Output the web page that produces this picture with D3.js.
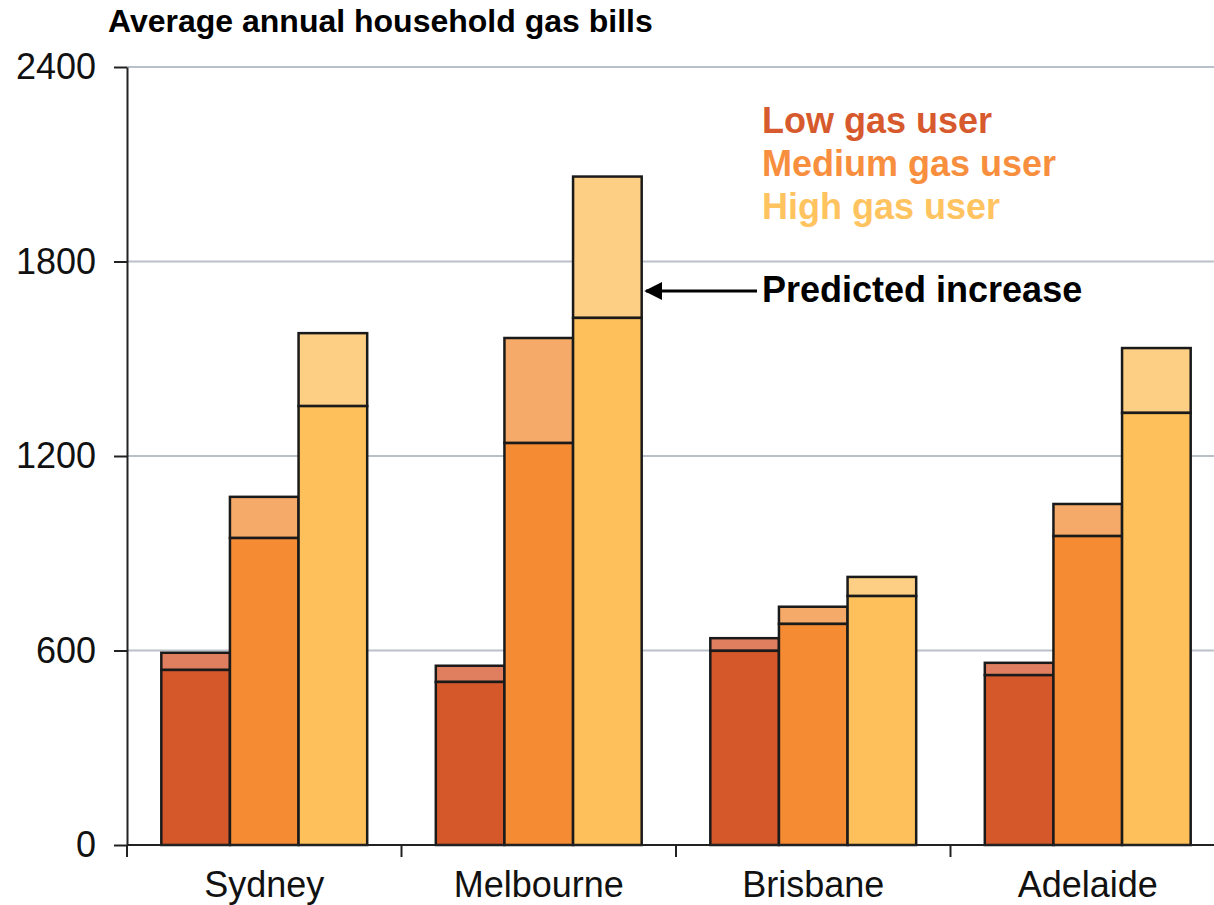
<!DOCTYPE html>
<html>
<head>
<meta charset="utf-8">
<script src="https://cdn.jsdelivr.net/npm/d3@7"></script>
<style>
  body { margin: 0; background: #fff; }
  svg { font-family: "Liberation Sans", Arial, sans-serif; }
</style>
</head>
<body>
<svg width="1214" height="905"></svg>
<script>
// values
const cities = ["Sydney", "Melbourne", "Brisbane", "Adelaide"];
const users = ["low", "medium", "high"];
const lowCurrent = [540, 503, 599, 524];
const lowPredicted = [593, 553, 638, 562];
const mediumCurrent = [947, 1240, 682, 953];
const mediumPredicted = [1074, 1564, 735, 1052];
const highCurrent = [1354, 1626, 768, 1333];
const highPredicted = [1579, 2062, 827, 1533];
const yTicks = [0, 600, 1200, 1800, 2400];
const legendLabels = ["Low gas user", "Medium gas user", "High gas user"];

const baseColor = { low: "#d4582a", medium: "#f58b33", high: "#fdc05a" };
const incColor = { low: "#e07f5f", medium: "#f6aa69", high: "#fdcf84" };
const textColor = { low: "#d75a2e", medium: "#f78f3e", high: "#ffc35f" };

const current = { low: lowCurrent, medium: mediumCurrent, high: highCurrent };
const predicted = { low: lowPredicted, medium: mediumPredicted, high: highPredicted };

const rows = [];
cities.forEach((c, i) => {
  users.forEach(u => {
    rows.push({ city: c, user: u, base: current[u][i], total: predicted[u][i] });
  });
});

const svg = d3.select("svg");

const x = d3.scaleBand().domain(cities).range([127, 1225]);
const x1 = d3.scaleBand().domain(users).range([0, x.bandwidth()]).paddingOuter(0.5);
const y = d3.scaleLinear().domain([0, 2400]).range([845, 67]);

// gridlines
svg.append("g")
  .selectAll("line")
  .data(yTicks.filter(d => d > 0))
  .join("line")
  .attr("x1", 127).attr("x2", 1214)
  .attr("y1", d => y(d)).attr("y2", d => y(d))
  .attr("stroke", "#b9c0c8")
  .attr("stroke-width", 2);

// bars
const bars = svg.append("g")
  .selectAll("g")
  .data(rows)
  .join("g")
  .attr("transform", d => `translate(${x(d.city) + x1(d.user)},0)`);

bars.append("rect")
  .attr("x", 0)
  .attr("width", x1.bandwidth())
  .attr("y", d => y(d.total))
  .attr("height", d => y(d.base) - y(d.total))
  .attr("fill", d => incColor[d.user])
  .attr("stroke", "#1a1a1a")
  .attr("stroke-width", 2.5);

bars.append("rect")
  .attr("x", 0)
  .attr("width", x1.bandwidth())
  .attr("y", d => y(d.base))
  .attr("height", d => y(0) - y(d.base))
  .attr("fill", d => baseColor[d.user])
  .attr("stroke", "#1a1a1a")
  .attr("stroke-width", 2.5);

// y axis
const yAxis = svg.append("g")
  .attr("transform", "translate(127,0)")
  .call(d3.axisLeft(y).tickValues(yTicks).tickFormat(d3.format("d"))
    .tickSize(13).tickPadding(18).tickSizeOuter(0));
yAxis.select(".domain").attr("stroke", "#222").attr("stroke-width", 2);
yAxis.selectAll(".tick line").attr("stroke", "#222").attr("stroke-width", 2);
yAxis.selectAll("text")
  .attr("font-size", 36)
  .attr("fill", "#111")
  .attr("font-family", "Liberation Sans, Arial, sans-serif");

// x axis
svg.append("line")
  .attr("x1", 127).attr("x2", 1214)
  .attr("y1", y(0)).attr("y2", y(0))
  .attr("stroke", "#222").attr("stroke-width", 2);

svg.append("g")
  .selectAll("line")
  .data(cities)
  .join("line")
  .attr("x1", d => x(d)).attr("x2", d => x(d))
  .attr("y1", y(0)).attr("y2", y(0) + 12)
  .attr("stroke", "#222").attr("stroke-width", 2);

svg.append("g")
  .selectAll("text")
  .data(cities)
  .join("text")
  .attr("x", d => x(d) + x.bandwidth() / 2)
  .attr("y", 897)
  .attr("text-anchor", "middle")
  .attr("font-size", 36)
  .attr("fill", "#111")
  .text(d => d);

// title
svg.append("text")
  .attr("x", 108).attr("y", 32)
  .attr("font-size", 32)
  .attr("font-weight", "bold")
  .attr("fill", "#000")
  .text("Average annual household gas bills");

// legend
svg.append("g")
  .selectAll("text")
  .data(users)
  .join("text")
  .attr("x", 762)
  .attr("y", (d, i) => 133 + i * 43)
  .attr("font-size", 36)
  .attr("font-weight", "bold")
  .attr("fill", d => textColor[d])
  .text((d, i) => legendLabels[i]);

// annotation
svg.append("defs").append("marker")
  .attr("id", "arrow")
  .attr("viewBox", "0 0 10 10")
  .attr("refX", 9).attr("refY", 5)
  .attr("markerWidth", 6).attr("markerHeight", 6)
  .attr("orient", "auto")
  .append("path")
  .attr("d", "M0,0 L10,5 L0,10 Z")
  .attr("fill", "#000");

svg.append("line")
  .attr("x1", 757).attr("x2", 646)
  .attr("y1", 291).attr("y2", 291)
  .attr("stroke", "#000").attr("stroke-width", 3)
  .attr("marker-end", "url(#arrow)");

svg.append("text")
  .attr("x", 762).attr("y", 302)
  .attr("font-size", 36)
  .attr("font-weight", "bold")
  .attr("fill", "#000")
  .text("Predicted increase");
</script>
</body>
</html>
